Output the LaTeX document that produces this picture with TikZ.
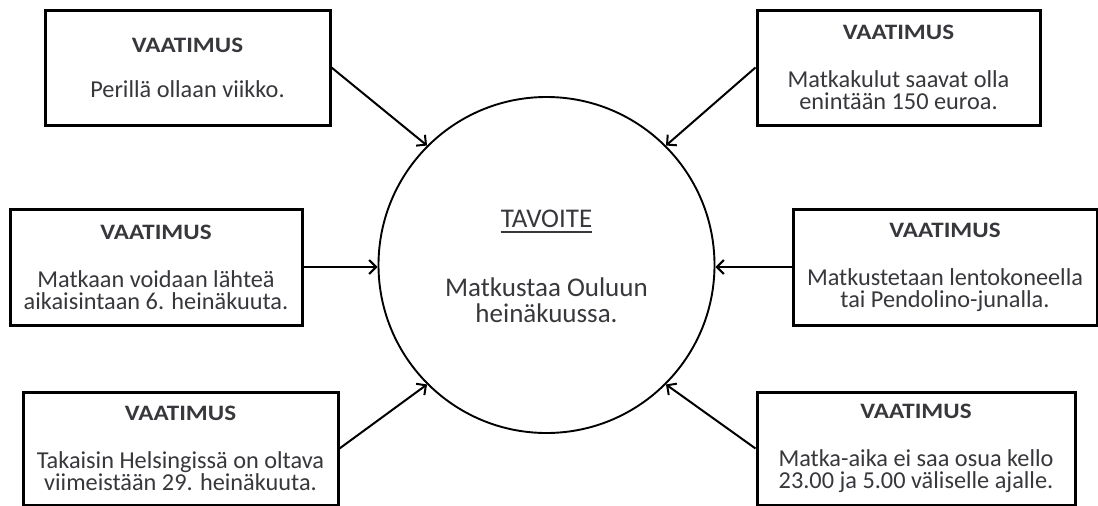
\documentclass[tikz,border=0pt]{standalone}
\usepackage{fontspec}
\setmainfont{Carlito}
\usetikzlibrary{arrows.meta}
\definecolor{txt}{RGB}{55,55,60}
\newcommand{\reqhead}{{\fontsize{22}{22}\selectfont\addfontfeatures{FakeStretch=1.14}\bfseries VAATIMUS}}
\begin{document}
\begin{tikzpicture}[x=1pt,y=-1pt,
  req/.style={draw=black,line width=3pt,fill=white,inner sep=0pt,align=center,text=txt,
    font=\fontsize{24.3}{22}\selectfont},
  conn/.style={line width=2pt,-{Straight Barb[length=7pt,width=14pt,line width=2pt]}},
  goal/.style={circle,draw=black,line width=1.9pt,minimum size=336pt,inner sep=0pt}]
\useasboundingbox (0,0) rectangle (1098,506);
\node[goal] (circ) at (546.5,265) {};
\node[text=txt,inner sep=0pt,font=\fontsize{27}{27}\selectfont,anchor=base] (tav) at (546.5,227) {TAVOITE};
\draw[txt,line width=1.6pt] ([yshift=-5pt]tav.base west) -- ([yshift=-5pt]tav.base east);
\node[text=txt,inner sep=0pt,align=center,font=\fontsize{27}{26}\selectfont] (gtext) at (546.5,300) {Matkustaa Ouluun\\heinäkuussa.};

\node[req,minimum width=285pt,minimum height=115pt] (b1) at (187.5,67.5)
  {\reqhead\\[23pt]Perillä ollaan viikko.};
\node[req,minimum width=283pt,minimum height=115pt] (b2) at (898.5,67.5)
  {\reqhead\\[26pt]Matkakulut saavat olla\\enintään 150 euroa.};
\node[req,minimum width=292pt,minimum height=116pt] (b3) at (156,267)
  {\reqhead\\[26pt]Matkaan voidaan lähteä\\aikaisintaan 6. heinäkuuta.};
\node[req,minimum width=304pt,minimum height=116pt] (b5) at (945,267)
  {\reqhead\\[26pt]Matkustetaan lentokoneella\\tai Pendolino-junalla.};
\node[req,minimum width=315pt,minimum height=113pt] (b4) at (180.5,448.5)
  {\reqhead\\[26pt]Takaisin Helsingissä on oltava\\viimeistään 29. heinäkuuta.};
\node[req,minimum width=318pt,minimum height=113pt] (b6) at (916,448.5)
  {\reqhead\\[26pt]Matka-aika ei saa osua kello\\23.00 ja 5.00 väliselle ajalle.};

\draw[conn] (b1.east) -- (circ.135);
\draw[conn] (b2.west) -- (circ.45);
\draw[conn] (b3.east) -- (b3.east -| circ.west);
\draw[conn] (b5.west) -- (b5.west -| circ.east);
\draw[conn] (b4.east) -- (circ.225);
\draw[conn] (b6.west) -- (circ.315);
\end{tikzpicture}
\end{document}
